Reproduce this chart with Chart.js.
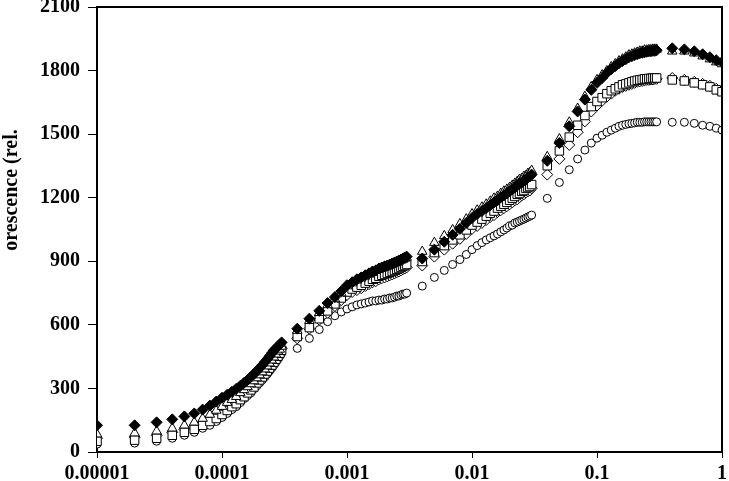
<!DOCTYPE html>
<html>
<head>
<meta charset="utf-8">
<script src="https://cdn.jsdelivr.net/npm/chart.js@4.4.1/dist/chart.umd.min.js"></script>
<style>
  html, body { margin:0; padding:0; background:#fff; overflow:hidden; }
  #wrap { position:absolute; left:0; top:0; width:729px; height:481px; }
</style>
</head>
<body>
<div id="wrap"><canvas id="chart" width="729" height="481"></canvas></div>
<script>
// concentration (x, log scale)
const concentrations = [
  0.00001, 0.00002, 0.00003, 0.00004, 0.00005, 0.00006, 0.00007, 0.00008, 0.00009,
  0.00010, 0.00011, 0.00012, 0.00013, 0.00014, 0.00015, 0.00016, 0.00017, 0.00018, 0.00019, 0.00020,
  0.00021, 0.00022, 0.00023, 0.00024, 0.00025, 0.00026, 0.00027, 0.00028, 0.00029, 0.00030,
  0.0004, 0.0005, 0.0006, 0.0007, 0.0008, 0.0009,
  0.0010, 0.0011, 0.0012, 0.0013, 0.0014, 0.0015, 0.0016, 0.0017, 0.0018, 0.0019, 0.0020,
  0.0021, 0.0022, 0.0023, 0.0024, 0.0025, 0.0026, 0.0027, 0.0028, 0.0029, 0.0030,
  0.004, 0.005, 0.006, 0.007, 0.008, 0.009,
  0.010, 0.011, 0.012, 0.013, 0.014, 0.015, 0.016, 0.017, 0.018, 0.019, 0.020,
  0.021, 0.022, 0.023, 0.024, 0.025, 0.026, 0.027, 0.028, 0.029, 0.030,
  0.04, 0.05, 0.06, 0.07, 0.08, 0.09,
  0.10, 0.11, 0.12, 0.13, 0.14, 0.15, 0.16, 0.17, 0.18, 0.19, 0.20,
  0.21, 0.22, 0.23, 0.24, 0.25, 0.26, 0.27, 0.28, 0.29, 0.30,
  0.4, 0.5, 0.6, 0.7, 0.8, 0.9, 1.0
];

// fluorescence, filled diamonds
const filledDiamond = [
  126, 126, 140, 154, 168, 182, 200, 219, 238,
  256, 270, 284, 298, 312, 326, 340, 354, 368, 382, 396, 410, 424, 438, 452, 466, 480, 489, 498, 508, 517,
  582, 629, 666, 703, 731, 759,
  787, 801, 815, 824, 834, 843, 852, 857, 866, 871, 876, 880, 885, 890, 894, 899, 904, 908, 913, 918, 922,
  913, 955, 992, 1025, 1053, 1081,
  1104, 1123, 1137, 1151, 1165, 1178, 1188, 1202, 1211, 1220, 1230, 1239, 1248, 1258, 1267, 1272, 1281, 1286, 1295, 1300, 1309,
  1374, 1458, 1537, 1607, 1663, 1709,
  1742, 1765, 1789, 1807, 1821, 1835, 1845, 1854, 1863, 1868, 1873, 1877, 1882, 1884, 1886, 1889, 1891, 1891, 1893, 1893, 1896,
  1905, 1900, 1891, 1877, 1863, 1849, 1840
];

// open triangles
const openTriangle = [
  84, 89, 98, 112, 126, 140, 158, 177, 196,
  214, 233, 247, 261, 279, 293, 307, 321, 335, 349, 363, 377, 391, 405, 419, 433, 447, 461, 475, 484, 498,
  573, 620, 657, 694, 722, 750,
  783, 797, 810, 820, 829, 838, 848, 857, 862, 866, 871, 876, 880, 885, 890, 894, 899, 904, 908, 913, 918,
  946, 988, 1020, 1048, 1076, 1099,
  1123, 1141, 1155, 1169, 1183, 1197, 1206, 1220, 1230, 1239, 1248, 1258, 1267, 1276, 1286, 1290, 1300, 1304, 1314, 1318, 1328,
  1393, 1477, 1556, 1621, 1677, 1723,
  1756, 1779, 1798, 1817, 1831, 1845, 1854, 1863, 1873, 1877, 1882, 1886, 1891, 1891, 1896, 1896, 1898, 1898, 1900, 1900, 1900,
  1891, 1891, 1882, 1868, 1854, 1840, 1831
];

// open squares
const openSquare = [
  51, 56, 65, 79, 93, 107, 126, 144, 158,
  177, 196, 214, 228, 247, 261, 279, 293, 307, 326, 340, 354, 368, 382, 396, 410, 424, 438, 452, 466, 480,
  545, 587, 629, 666, 699, 727,
  755, 769, 778, 787, 797, 806, 815, 820, 829, 834, 838, 843, 848, 852, 857, 862, 866, 871, 876, 880, 885,
  899, 941, 974, 1001, 1025, 1048,
  1071, 1085, 1099, 1113, 1127, 1137, 1151, 1160, 1169, 1178, 1188, 1197, 1206, 1216, 1220, 1230, 1234, 1244, 1248, 1253, 1262,
  1351, 1421, 1486, 1542, 1588, 1630,
  1654, 1672, 1691, 1705, 1714, 1723, 1733, 1737, 1742, 1747, 1751, 1754, 1756, 1758, 1761, 1761, 1763, 1763, 1765, 1765, 1765,
  1756, 1751, 1742, 1733, 1723, 1709, 1700
];

// open diamonds
const openDiamond = [
  65, 70, 79, 93, 107, 121, 140, 158, 172,
  191, 210, 224, 242, 256, 275, 289, 303, 317, 335, 349, 363, 377, 391, 405, 419, 433, 447, 461, 475, 489,
  536, 582, 624, 657, 689, 717,
  741, 755, 764, 773, 783, 792, 801, 806, 815, 820, 824, 829, 834, 838, 843, 848, 852, 857, 862, 866, 871,
  880, 922, 955, 983, 1006, 1029,
  1053, 1067, 1081, 1095, 1109, 1118, 1132, 1141, 1151, 1160, 1169, 1178, 1188, 1192, 1202, 1211, 1216, 1225, 1230, 1234, 1244,
  1309, 1383, 1449, 1509, 1560, 1607,
  1635, 1658, 1677, 1691, 1705, 1714, 1723, 1728, 1733, 1737, 1742, 1747, 1749, 1751, 1754, 1756, 1756, 1758, 1758, 1761, 1761,
  1765, 1756, 1747, 1737, 1728, 1714, 1705
];

// open circles
const openCircle = [
  37, 42, 51, 65, 79, 93, 112, 126, 144,
  163, 182, 200, 214, 233, 252, 266, 279, 298, 312, 326, 340, 354, 368, 382, 396, 410, 424, 438, 452, 466,
  489, 536, 578, 615, 643, 661,
  675, 685, 694, 699, 703, 708, 713, 713, 717, 717, 722, 722, 727, 727, 731, 736, 736, 741, 745, 745, 750,
  783, 824, 857, 885, 908, 932,
  955, 974, 988, 1001, 1011, 1020, 1029, 1039, 1048, 1057, 1067, 1071, 1081, 1085, 1090, 1095, 1099, 1104, 1109, 1113, 1118,
  1197, 1272, 1332, 1383, 1425, 1458,
  1481, 1495, 1509, 1519, 1528, 1537, 1542, 1546, 1549, 1551, 1553, 1556, 1556, 1556, 1558, 1558, 1558, 1558, 1558, 1558, 1558,
  1556, 1556, 1551, 1542, 1537, 1528, 1519
];

const xTickValues = [0.00001, 0.0001, 0.001, 0.01, 0.1, 1];
const xTickLabels = ['0.00001', '0.0001', '0.001', '0.01', '0.1', '1'];
const yMin = 0, yMax = 2100, yStep = 300;
const yTitle = 'orescence (rel.';

const pts = ys => concentrations.map((x, i) => ({ x, y: ys[i] }));

const frame = {
  id: 'frame',
  afterDraw(chart){
    const { ctx, chartArea: a } = chart;
    ctx.save();
    ctx.strokeStyle = '#000'; ctx.lineWidth = 2;
    ctx.beginPath();
    ctx.moveTo(a.left, a.top); ctx.lineTo(a.right, a.top); ctx.lineTo(a.right, a.bottom);
    ctx.stroke();
    // axis title
    ctx.translate(12, 190);
    ctx.rotate(-Math.PI / 2);
    ctx.font = 'bold 20px "Liberation Serif", serif';
    ctx.fillStyle = '#000';
    ctx.textAlign = 'center'; ctx.textBaseline = 'middle';
    ctx.fillText(yTitle, 0, 0);
    ctx.restore();
  }
};

const ds = (data, style, radius, fill) => ({
  data: pts(data), pointStyle: style, pointRadius: radius, pointHoverRadius: radius,
  backgroundColor: fill, borderColor: '#000', borderWidth: 1, showLine: false
});

new Chart(document.getElementById('chart'), {
  type: 'scatter',
  data: { datasets: [
    ds(filledDiamond, 'rectRot', 5.5, '#000'),
    ds(openTriangle, 'triangle', 5.5, '#fff'),
    ds(openSquare, 'rect', 6, '#fff'),
    ds(openDiamond, 'rectRot', 5.5, '#fff'),
    ds(openCircle, 'circle', 4, '#fff')
  ]},
  options: {
    responsive: false, animation: false, devicePixelRatio: 1,
    layout: { padding: { left: 0, right: 5, top: 1, bottom: 0 } },
    plugins: { legend: { display: false }, tooltip: { enabled: false } },
    scales: {
      x: {
        type: 'logarithmic', min: xTickValues[0], max: xTickValues[xTickValues.length - 1],
        afterBuildTicks: s => { s.ticks = xTickValues.map(v => ({ value: v })); },
        afterFit: s => { s.height = 29; s.paddingLeft = 0; s.paddingRight = 0; },
        ticks: { autoSkip: false, maxRotation: 0, padding: 4, color: '#000',
                 font: { family: '"Liberation Serif", serif', size: 20, weight: 'bold' },
                 callback: (v, i) => xTickLabels[i] },
        grid: { display: true, drawOnChartArea: false, tickLength: 6, color: '#000', lineWidth: 1 },
        border: { display: true, color: '#000', width: 2 }
      },
      y: {
        min: yMin, max: yMax,
        afterFit: s => { s.width = 97; s.paddingTop = 0; s.paddingBottom = 0; },
        ticks: { stepSize: yStep, padding: 8, color: '#000',
                 font: { family: '"Liberation Serif", serif', size: 20, weight: 'bold' },
                 callback: v => String(v) },
        grid: { display: true, drawOnChartArea: false, tickLength: 9, color: '#000', lineWidth: 1 },
        border: { display: true, color: '#000', width: 2 }
      }
    }
  },
  plugins: [frame]
});
</script>
</body>
</html>
